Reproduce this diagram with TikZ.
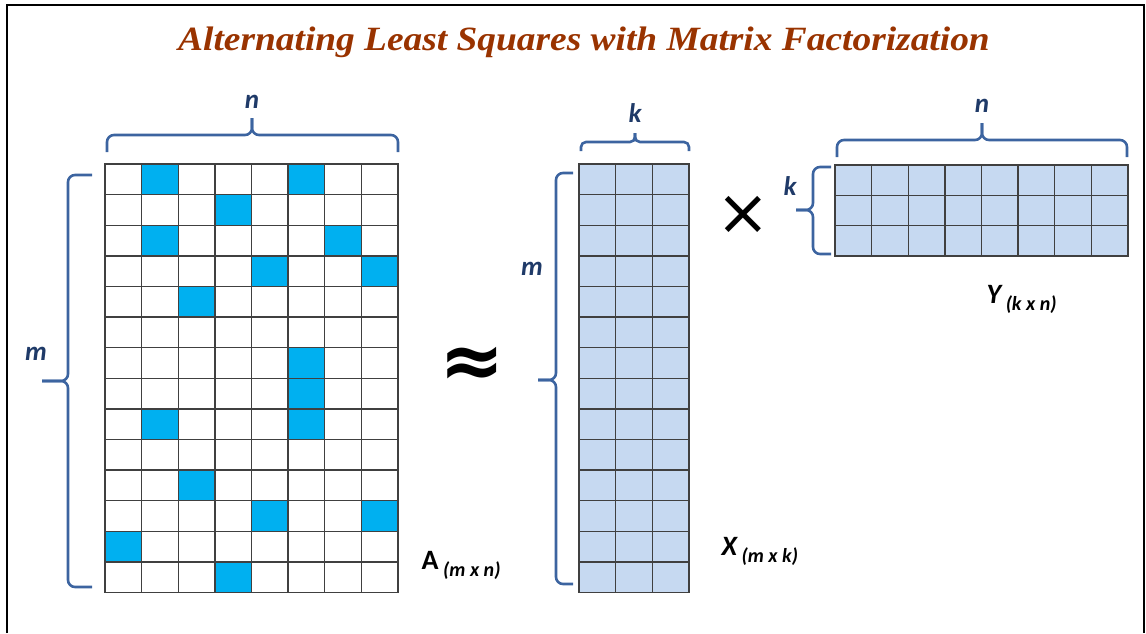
\documentclass[tikz,border=0pt]{standalone}
\usepackage{fontspec}
\newfontfamily\labelfont{Carlito}
\newfontfamily\headfont[FakeStretch=1.1]{Liberation Serif}
\newfontfamily\opfont{DejaVu Sans}
\definecolor{titlebrown}{HTML}{993300}
\definecolor{bracecol}{HTML}{3C64A0}
\definecolor{dimcol}{HTML}{1F3A68}
\definecolor{hitblue}{HTML}{00B0F0}
\definecolor{factorblue}{HTML}{C6D9F1}
\definecolor{gridgray}{HTML}{404040}

\begin{document}
\begin{tikzpicture}[x=1pt, y=-1pt,
  cellA/.style={draw=gridgray, line width=1.4pt},
  cellF/.style={draw=gridgray, line width=1.4pt, fill=factorblue},
  brc/.style={draw=bracecol, line width=2.6pt, rounded corners=7pt},
  dimlbl/.style={text=dimcol, font=\labelfont\bfseries\itshape\fontsize{27}{27}\selectfont, anchor=base},
  namelbl/.style={anchor=base west, font=\labelfont\bfseries\fontsize{28}{28}\selectfont}]
\useasboundingbox (0,0) rectangle (1146,633);
% frame (open at the bottom)
\draw[line width=2.6pt] (7,633) -- (7,5) -- (1144,5) -- (1144,633);
% Title
\node[font=\headfont\bfseries\itshape\fontsize{34}{34}\selectfont, text=titlebrown, anchor=base] (title) at (584,50) {Alternating Least Squares with Matrix Factorization};

% A: sparse matrix
\foreach \r in {0,...,13}
  \foreach \c in {0,...,7}
    \draw[cellA] (105+\c*36.6, 164+\r*30.6) rectangle ++(36.6,30.6);
\foreach \r/\c in {0/1,0/5,1/3,2/1,2/6,3/4,3/7,4/2,6/5,7/5,8/1,8/5,10/2,11/4,11/7,12/0,13/3}
  \filldraw[cellA, fill=hitblue] (105+\c*36.6, 164+\r*30.6) rectangle ++(36.6,30.6);
% braces of A
\draw[brc] (107,152) -- (107,135) -- (252,135) -- (252,118);
\draw[brc] (398,152) -- (398,135) -- (252,135) -- (252,118);
\draw[brc] (92,175) -- (68,175) -- (68,381) -- (42,381);
\draw[brc] (92,587) -- (68,587) -- (68,381) -- (42,381);
\node[dimlbl] (nA) at (252,108) {n};
\node[dimlbl] (mA) at (36,360) {m};
\node[namelbl] (labA) at (418,569) {A\,\raisebox{-7pt}{\fontsize{20}{20}\selectfont\itshape(m x n)}};

% approx sign
\node[font=\opfont\bfseries\fontsize{78}{78}\selectfont] (approx) at (472,367) {≈};

% X: m x k factor
\foreach \r in {0,...,13}
  \foreach \c in {0,...,2}
    \draw[cellF] (579+\c*36.67, 164+\r*30.6) rectangle ++(36.67,30.6);
% braces of X
\draw[brc, rounded corners=5pt] (581,151) -- (581,142) -- (635,142) -- (635,133);
\draw[brc, rounded corners=5pt] (689,151) -- (689,142) -- (635,142) -- (635,133);
\draw[brc] (573,173) -- (556,173) -- (556,380) -- (538,380);
\draw[brc] (573,584) -- (556,584) -- (556,380) -- (538,380);
\node[dimlbl] (kX) at (635,122) {k};
\node[dimlbl] (mX) at (532,275) {m};
\node[namelbl] (labX) at (718,555) {\itshape X\,\raisebox{-7pt}{\fontsize{20}{20}\selectfont(m x k)}};

% times sign
\node[font=\opfont\fontsize{64}{64}\selectfont] (times) at (743,215) {×};

% Y: k x n factor
\foreach \r in {0,...,2}
  \foreach \c in {0,...,7}
    \draw[cellF] (835+\c*36.625, 165+\r*30.33) rectangle ++(36.625,30.33);
% braces of Y
\draw[brc] (837,157) -- (837,140) -- (982,140) -- (982,123);
\draw[brc] (1127,157) -- (1127,140) -- (982,140) -- (982,123);
\draw[brc] (831,167) -- (813,167) -- (813,210) -- (796,210);
\draw[brc] (831,254) -- (813,254) -- (813,210) -- (796,210);
\node[dimlbl] (nY) at (982,112) {n};
\node[dimlbl] (kY) at (790,195) {k};
\node[namelbl] (labY) at (983,303) {\itshape Y\,\raisebox{-7pt}{\fontsize{20}{20}\selectfont(k x n)}};
\end{tikzpicture}
\end{document}
